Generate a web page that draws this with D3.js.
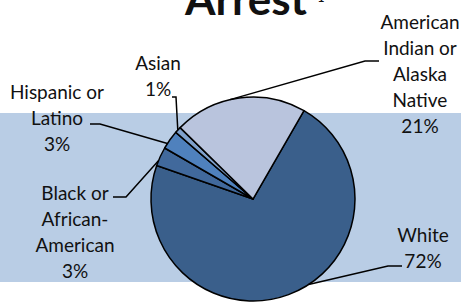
<!DOCTYPE html>
<html lang="en">
<head>
<meta charset="utf-8">
<title>Arrest</title>
<script src="https://d3js.org/d3.v7.min.js"></script>
<style>
  body { margin: 0; background: #fff; }
  text { font-family: Lato, "Open Sans", sans-serif; fill: #111; }
</style>
</head>
<body>
<div id="chart"></div>
<script>
var categories = ["White", "Black or African-American", "Hispanic or Latino", "Asian", "American Indian or Alaska Native"];
var values = [72, 3, 3, 1, 21];
var colors = ["#3A5F8B", "#41699C", "#4F81BD", "#7FA1CC", "#B9C4DD"];
// label lines as drawn in the picture
var labelLines = [["White", "72%"], ["Black or", "African-", "American", "3%"], ["Hispanic or", "Latino", "3%"], ["Asian", "1%"], ["American", "Indian or", "Alaska", "Native", "21%"]];

var width = 461, height = 303;
var cx = 253, cy = 199, r = 102;

var svg = d3.select("#chart").append("svg")
    .attr("width", width)
    .attr("height", height);

// plot area band
svg.append("rect")
    .attr("x", 0).attr("y", 113)
    .attr("width", width).attr("height", 169)
    .attr("fill", "#B9CDE5");

// title (cut off at top)
svg.append("text")
    .attr("x", 246).attr("y", 15)
    .attr("text-anchor", "middle")
    .style("font-weight", "bold")
    .style("font-size", "44px")
    .text("Arrest");

// footnote mark, only its foot shows
svg.append("text")
    .attr("x", 321).attr("y", 2)
    .attr("text-anchor", "middle")
    .style("font-weight", "bold")
    .style("font-size", "12px")
    .text("1");

var pie = d3.pie().sort(null)
    .startAngle(30 * Math.PI / 180)
    .endAngle(30 * Math.PI / 180 + 2 * Math.PI);
var arcs = pie(values);
var arc = d3.arc().innerRadius(0).outerRadius(r);

var g = svg.append("g").attr("transform", "translate(" + cx + "," + cy + ")");
g.selectAll("path")
  .data(arcs)
  .enter().append("path")
    .attr("d", arc)
    .attr("fill", function(d, i) { return colors[i]; })
    .attr("stroke", "#000")
    .attr("stroke-width", 1.5)
    .attr("stroke-linejoin", "round");

// label placement: center x, first baseline, leader line start
var labelPos = [
  {x: 423, y: 242, lx: 402, ly: 266, hook: -14},
  {x: 75, y: 200, lx: 113, ly: 197, hook: 13},
  {x: 57, y: 99, lx: 90, ly: 124, hook: 10},
  {x: 158, y: 70, lx: 172, ly: 97, hook: 4},
  {x: 420, y: 29, lx: 379, ly: 61, hook: -14}
];
var leaderAngle = [147, 292, 303, 312.5, 347];

labelLines.forEach(function(lines, i) {
  var p = labelPos[i];
  var t = svg.append("text")
      .attr("text-anchor", "middle")
      .style("font-size", "19px");
  lines.forEach(function(s, k) {
    t.append("tspan").attr("x", p.x).attr("y", p.y + k * 26).text(s);
  });
  var a = leaderAngle[i] * Math.PI / 180;
  var ex = cx + r * Math.sin(a), ey = cy - r * Math.cos(a);
  var pts = [[p.lx, p.ly], [p.lx + p.hook, p.ly], [ex, ey]];
  svg.append("path")
      .attr("d", d3.line()(pts))
      .attr("fill", "none")
      .attr("stroke", "#000")
      .attr("stroke-width", 1.5);
});
</script>
</body>
</html>
